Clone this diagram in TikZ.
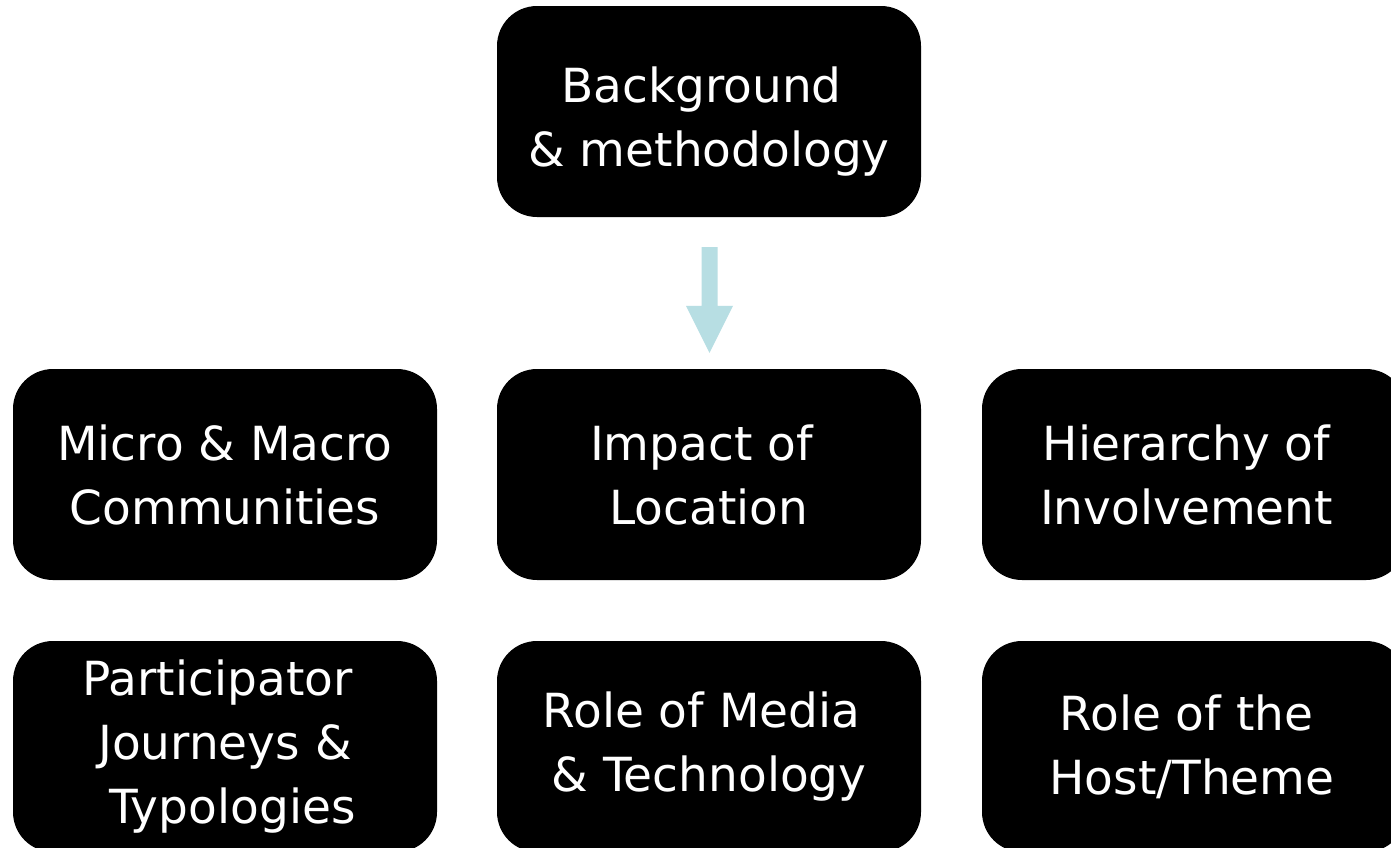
\documentclass[tikz,border=0pt]{standalone}
\usepackage{fontspec}
\setmainfont{DejaVu Sans}
\usetikzlibrary{calc}
\definecolor{arrowblue}{RGB}{183,222,227}
\begin{document}
\begin{tikzpicture}[x=1pt,y=-1pt,
  blockbox/.style={fill=black, rounded corners=40pt, minimum width=424pt, minimum height=211pt,
    inner sep=0pt, text=white, align=center, font=\fontsize{47}{64}\selectfont}]
\useasboundingbox (0,0) rectangle (1391,847);
\clip (0,0) rectangle (1391,847);
\fill[white] (0,0) rectangle (1391,847);
\node[blockbox] (top) at (709,111.5) {\rule{0pt}{56pt}Background\hspace*{15pt}\\\& methodology};
\node[blockbox] (micro) at (225,474.5) {Micro \& Macro\\Communities};
\node[blockbox] (mid) at (709,474.5) {Impact of\hspace*{15pt}\\Location};
\node[blockbox] (hier) at (1194,474.5) {Hierarchy of\hspace*{15pt}\\Involvement\hspace*{15pt}};
\node[blockbox] (part) at (225,746.5) {Participator\hspace*{15pt}\\Journeys \&\hspace*{15pt}\\\hspace*{15pt}Typologies};
\node[blockbox] (media) at (709,746.5) {Role of Media\hspace*{15pt}\\\& Technology};
\node[blockbox] (host) at (1194,746.5) {Role of the\hspace*{15pt}\\Host/Theme\hspace*{4pt}};
\coordinate (as) at ($(top.south)+(0.5,30)$);
\coordinate (at) at ($(mid.north)+(0.5,-16)$);
\fill[arrowblue] ($(as)+(-8,0)$) -- ($(as)+(8,0)$) -- ($(at)+(8,-47)$) -- ($(at)+(23.5,-47)$)
  -- (at) -- ($(at)+(-23.5,-47)$) -- ($(at)+(-8,-47)$) -- cycle;
\end{tikzpicture}
\end{document}
